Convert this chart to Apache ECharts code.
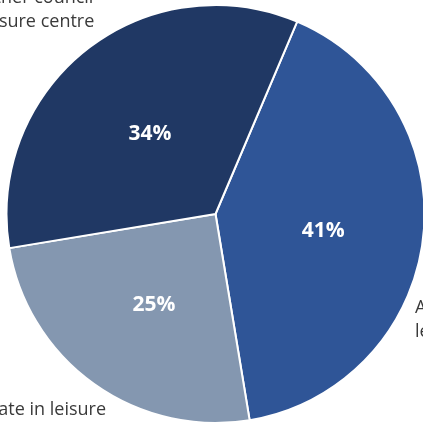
<!DOCTYPE html>
<html>
<head>
<meta charset="utf-8">
<script src="https://cdn.jsdelivr.net/npm/echarts@6/dist/echarts.min.js"></script>
<style>
  html, body { margin: 0; padding: 0; background: #ffffff; }
  #chart { width: 423px; height: 427px; }
</style>
</head>
<body>
<div id="chart"></div>
<script>
// Where respondents use leisure facilities (share of responses, %)
const categories = [
  'At this council\nleisure centre',
  "Don't participate in leisure",
  'Other council\nleisure centre'
];
const shares = [41, 25, 34];
const sliceColors = ['#2F5597', '#8497B0', '#203864'];

// Placement of the category captions around the pie: [x, y, align]
const captionLayout = [
  [415, 320, 'left'],
  [106, 410, 'right'],
  [37, 10, 'center']
];

const fontFamily = '"Open Sans", "Noto Sans", sans-serif';
const center = [215.5, 214];
const radius = 209;

const sliceData = categories.map((name, i) => ({
  name: name,
  value: shares[i],
  itemStyle: { color: sliceColors[i] }
}));

const chart = echarts.init(document.getElementById('chart'), null, { renderer: 'canvas' });

chart.setOption({
  backgroundColor: '#ffffff',
  animation: false,
  series: [
    {
      type: 'pie',
      center: center,
      radius: radius,
      startAngle: 67,
      clockwise: true,
      avoidLabelOverlap: false,
      data: sliceData,
      itemStyle: { borderColor: '#ffffff', borderWidth: 2 },
      label: {
        show: true,
        position: 'inside',
        formatter: '{c}%',
        color: '#ffffff',
        fontFamily: fontFamily,
        fontWeight: 'bold',
        fontSize: 21,
        offset: [1, 4]
      },
      labelLine: { show: false },
      emphasis: { disabled: true }
    },
    {
      // caption layer: same slices, only the category names are shown
      type: 'pie',
      center: center,
      radius: radius,
      startAngle: 67,
      clockwise: true,
      silent: true,
      avoidLabelOverlap: false,
      data: sliceData.map(d => ({ name: d.name, value: d.value })),
      itemStyle: { color: 'rgba(0,0,0,0)', borderWidth: 0 },
      label: {
        show: true,
        position: 'outside',
        formatter: '{b}',
        color: '#3a3a3a',
        fontFamily: fontFamily,
        fontSize: 18,
        lineHeight: 24
      },
      labelLine: { show: false },
      labelLayout: function (params) {
        const p = captionLayout[params.dataIndex];
        return { x: p[0], y: p[1], align: p[2], verticalAlign: 'middle' };
      },
      emphasis: { disabled: true }
    }
  ]
});
</script>
</body>
</html>
